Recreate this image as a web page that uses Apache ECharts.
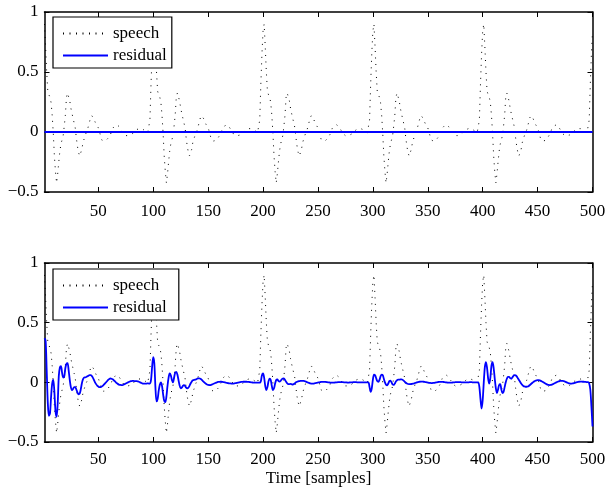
<!DOCTYPE html>
<html>
<head>
<meta charset="utf-8">
<script src="https://cdn.jsdelivr.net/npm/echarts@6/dist/echarts.min.js"></script>
<style>html,body{margin:0;background:#fff}#chart{width:606px;height:488px}</style>
</head>
<body>
<div id="chart"></div>
<script>
// one pitch period of the speech signal (100 samples, starting on the pulse peak)
var speechPeriod = [
  0.90, 0.71, 0.50, 0.34, 0.31, 0.29, 0.245, 0.14, -0.01, -0.20,
  -0.33, -0.425, -0.35, -0.25, -0.16, -0.10, -0.065, -0.03, 0.05, 0.14,
  0.29, 0.325, 0.31, 0.26, 0.20, 0.155, 0.115, 0.075, 0.035, -0.05,
  -0.12, -0.17, -0.20, -0.19, -0.145, -0.09, -0.06, -0.03, -0.005, 0.015,
  0.05, 0.085, 0.12, 0.137, 0.13, 0.11, 0.085, 0.065, 0.05, 0.035,
  0.005, -0.03, -0.065, -0.078, -0.075, -0.072, -0.07, -0.065, -0.05, -0.035,
  -0.02, 0.0, 0.03, 0.04, 0.05, 0.056, 0.06, 0.058, 0.045, 0.03,
  0.015, 0.0, -0.015, -0.025, -0.03, -0.03, -0.03, -0.028, -0.025, -0.02,
  -0.015, -0.005, 0.005, 0.015, 0.02, 0.025, 0.028, 0.028, 0.028, 0.026,
  0.02, 0.015, 0.008, 0.0, -0.005, 0.0, 0.1, 0.4, 0.65, 0.84
];
var periodCount = 5;

// residual of the lower plot, samples 1-100, 101-200, ...
var residual1 = [
  0.37, 0.35, 0.10, -0.17, -0.28, -0.26, -0.12, -0.01, 0.02, -0.08,
  -0.24, -0.29, -0.18, 0.05, 0.125, 0.135, 0.08, 0.04, 0.05, 0.12,
  0.155, 0.16, 0.10, 0.02, -0.04, -0.065, -0.055, -0.04, -0.04, -0.06,
  -0.085, -0.10, -0.095, -0.06, -0.01, 0.025, 0.04, 0.042, 0.045, 0.05,
  0.055, 0.06, 0.06, 0.055, 0.04, 0.02, 0.0, -0.015, -0.028, -0.035,
  -0.04, -0.04, -0.035, -0.03, -0.02, -0.01, 0.0, 0.01, 0.02, 0.028,
  0.032, 0.03, 0.025, 0.018, 0.01, 0.0, -0.008, -0.015, -0.02, -0.022,
  -0.023, -0.023, -0.02, -0.015, -0.01, -0.005, 0.0, 0.004, 0.008, 0.01,
  0.012, 0.012, 0.01, 0.01, 0.01, 0.008, 0.005, 0.0, -0.004, -0.008,
  -0.01, -0.01, -0.01, -0.01, -0.008, -0.01, -0.01, 0.02, 0.13, 0.21
];
var residual2 = [
  0.16, -0.04, -0.16, -0.14, -0.07, -0.02, 0.0, -0.03, -0.10, -0.155,
  -0.165, -0.12, -0.03, 0.04, 0.074, 0.06, 0.02, 0.0, 0.04, 0.08,
  0.088, 0.065, 0.02, -0.025, -0.05, -0.045, -0.03, -0.023, -0.03, -0.045,
  -0.05, -0.045, -0.03, -0.01, 0.005, 0.017, 0.02, 0.022, 0.025, 0.03,
  0.033, 0.033, 0.03, 0.022, 0.013, 0.004, -0.005, -0.012, -0.018, -0.022,
  -0.023, -0.023, -0.02, -0.016, -0.012, -0.008, -0.004, 0.0, 0.003, 0.004,
  0.005, 0.005, 0.004, 0.002, 0.0, -0.002, -0.005, -0.007, -0.008, -0.009,
  -0.01, -0.01, -0.01, -0.009, -0.007, -0.005, -0.003, -0.001, 0.001, 0.003,
  0.004, 0.005, 0.005, 0.005, 0.005, 0.004, 0.003, 0.002, 0.0, -0.001,
  -0.002, -0.002, -0.002, -0.002, -0.002, -0.003, -0.003, 0.01, 0.06, 0.075
];
var residual3 = [
  0.04, -0.03, -0.065, -0.04, 0.01, 0.03, 0.02, -0.03, -0.065, -0.05,
  -0.01, 0.02, 0.024, 0.012, 0.006, 0.012, 0.025, 0.032, 0.033, 0.02,
  0.005, -0.008, -0.015, -0.015, -0.013, -0.016, -0.018, -0.015, -0.008, 0.0,
  0.005, 0.008, 0.01, 0.012, 0.013, 0.013, 0.012, 0.01, 0.006, 0.002,
  -0.002, -0.005, -0.008, -0.01, -0.01, -0.01, -0.008, -0.006, -0.004, -0.002,
  0.0, 0.002, 0.003, 0.004, 0.004, 0.004, 0.003, 0.002, 0.0, -0.001,
  -0.002, -0.003, -0.003, -0.003, -0.002, -0.001, 0.0, 0.001, 0.002, 0.002,
  0.002, 0.002, 0.001, 0.0, -0.001, -0.001, -0.002, -0.002, -0.001, -0.001,
  0.0, 0.001, 0.001, 0.001, 0.001, 0.0, 0.0, -0.001, -0.001, -0.001,
  0.0, 0.0, 0.0, 0.0, 0.0, 0.0, -0.04, -0.08, -0.05, 0.02
];
var residual4 = [
  0.065, 0.06, 0.035, 0.01, 0.005, 0.02, 0.05, 0.065, 0.06, 0.03,
  0.0, -0.02, -0.025, -0.01, 0.01, 0.015, 0.0, -0.018, -0.022, -0.01,
  0.008, 0.018, 0.022, 0.022, 0.024, 0.025, 0.022, 0.015, 0.005, -0.004,
  -0.01, -0.014, -0.015, -0.015, -0.014, -0.012, -0.01, -0.007, -0.004, -0.001,
  0.002, 0.004, 0.005, 0.006, 0.006, 0.005, 0.004, 0.002, 0.0, -0.002,
  -0.004, -0.005, -0.006, -0.006, -0.005, -0.004, -0.002, 0.0, 0.002, 0.003,
  0.004, 0.004, 0.004, 0.003, 0.002, 0.0, -0.001, -0.002, -0.003, -0.003,
  -0.003, -0.002, -0.001, 0.0, 0.001, 0.002, 0.002, 0.002, 0.002, 0.001,
  0.0, -0.001, -0.001, -0.001, -0.001, 0.0, 0.0, 0.001, 0.001, 0.001,
  0.0, 0.0, 0.0, 0.0, 0.0, 0.0, -0.04, -0.14, -0.22, -0.15
];
var residual5 = [
  0.0, 0.13, 0.17, 0.12, 0.03, -0.01, 0.04, 0.14, 0.17, 0.12,
  0.03, -0.05, -0.09, -0.06, -0.02, -0.015, -0.06, -0.09, -0.08, -0.04,
  0.0, 0.03, 0.045, 0.045, 0.035, 0.03, 0.04, 0.055, 0.06, 0.058,
  0.05, 0.035, 0.02, 0.005, -0.01, -0.022, -0.03, -0.035, -0.037, -0.037,
  -0.035, -0.03, -0.022, -0.014, -0.006, 0.002, 0.008, 0.013, 0.016, 0.018,
  0.018, 0.016, 0.012, 0.007, 0.002, -0.004, -0.01, -0.015, -0.019, -0.022,
  -0.023, -0.022, -0.019, -0.015, -0.01, -0.005, 0.0, 0.004, 0.008, 0.011,
  0.013, 0.013, 0.012, 0.01, 0.006, 0.002, -0.002, -0.006, -0.009, -0.01,
  -0.01, -0.009, -0.007, -0.004, -0.001, 0.002, 0.004, 0.005, 0.006, 0.006,
  0.005, 0.005, 0.004, 0.003, 0.002, 0.002, -0.01, -0.06, -0.20, -0.37
];

// upper plot: residual is zero everywhere
var flatResidualX = [1, 500];
var flatResidualY = [0, 0];

var xTicks = [50, 100, 150, 200, 250, 300, 350, 400, 450, 500];
var seriesNames = ['speech', 'residual'];
var xLabel = 'Time [samples]';

var speech = [];
for (var p = 0; p < periodCount; p++) speech = speech.concat(speechPeriod);
var residual = residual1.concat(residual2, residual3, residual4, residual5);

function pairs(xs, ys) {
  return ys.map(function (v, i) { return [xs ? xs[i] : i + 1, v]; });
}

var font = 'Liberation Serif';
var black = '#000';

function xAxis(grid, pos, labels, margin, name) {
  return {
    type: 'value', gridIndex: grid, position: pos, min: 1, max: 500,
    axisLine: {show: true, onZero: false, lineStyle: {color: black, width: 1.5}},
    axisTick: {show: true, inside: true, length: 5, customValues: xTicks, lineStyle: {color: black, width: 1}},
    axisLabel: {show: labels, customValues: xTicks, color: black, fontFamily: font, fontSize: 17, margin: margin || 8},
    splitLine: {show: false},
    name: name || '', nameLocation: 'middle', nameGap: 28,
    nameTextStyle: {color: black, fontFamily: font, fontSize: 17}
  };
}
function yAxis(grid, pos, labels) {
  return {
    type: 'value', gridIndex: grid, position: pos, min: -0.5, max: 1, interval: 0.5,
    axisLine: {show: true, onZero: false, lineStyle: {color: black, width: 1.5}},
    axisTick: {show: true, inside: true, length: 5, lineStyle: {color: black, width: 1}},
    axisLabel: {
      show: labels, color: black, fontFamily: font, fontSize: 17, margin: 6,
      formatter: function (v) { return v < 0 ? '\u2212' + (-v) : String(v); }
    },
    splitLine: {show: false}
  };
}
function legend(top, right) {
  return {
    orient: 'vertical', left: 53, top: top, data: seriesNames, selectedMode: false,
    backgroundColor: '#fff', borderColor: black, borderWidth: 1.2, borderRadius: 0,
    padding: [8, right, 4, 9], itemWidth: 45, itemHeight: 14, itemGap: 5,
    itemStyle: {opacity: 0},
    textStyle: {color: black, fontFamily: font, fontSize: 17}
  };
}

var speechStyle = {color: black, width: 1, type: [1, 5.5]};
var residualStyle = {color: '#0000ff', width: 1.8};

var option = {
  backgroundColor: '#fff',
  animation: false,
  grid: [
    {left: 44.5, right: 13.5, top: 12, height: 180, outerBoundsMode: 'none'},
    {left: 44.5, right: 13.5, top: 263, height: 179, outerBoundsMode: 'none'}
  ],
  xAxis: [xAxis(0, 'bottom', true, 11), xAxis(0, 'top', false),
          xAxis(1, 'bottom', true, 9, xLabel), xAxis(1, 'top', false)],
  yAxis: [yAxis(0, 'left', true), yAxis(0, 'right', false),
          yAxis(1, 'left', true), yAxis(1, 'right', false)],
  legend: [legend(17, 5), legend(269, 12)],
  series: [
    {name: 'speech', type: 'line', xAxisIndex: 0, yAxisIndex: 0, data: pairs(null, speech),
     symbol: 'none', lineStyle: speechStyle, itemStyle: {color: black}},
    {name: 'residual', type: 'line', xAxisIndex: 0, yAxisIndex: 0, data: pairs(flatResidualX, flatResidualY),
     symbol: 'none', lineStyle: {color: '#0000ff', width: 2}, itemStyle: {color: '#0000ff'}},
    {name: 'speech', type: 'line', xAxisIndex: 2, yAxisIndex: 2, data: pairs(null, speech),
     symbol: 'none', lineStyle: speechStyle, itemStyle: {color: black}},
    {name: 'residual', type: 'line', xAxisIndex: 2, yAxisIndex: 2, data: pairs(null, residual),
     symbol: 'none', smooth: 0.3, lineStyle: residualStyle, itemStyle: {color: '#0000ff'}}
  ]
};

var chart = echarts.init(document.getElementById('chart'));
chart.setOption(option);
</script>
</body>
</html>
